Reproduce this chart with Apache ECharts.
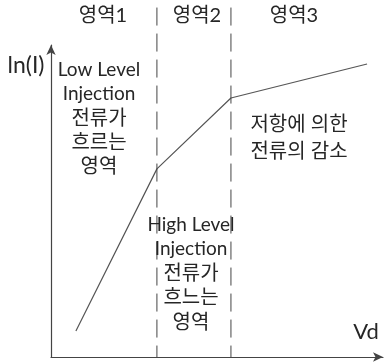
<!DOCTYPE html>
<html>
<head>
<meta charset="utf-8">
<script src="https://cdn.jsdelivr.net/npm/echarts@6/dist/echarts.min.js"></script>
<style>
  html, body { margin: 0; padding: 0; background: #fff; }
  #chart { width: 388px; height: 363px; }
</style>
</head>
<body>
<div id="chart"></div>
<script>
// Region boundaries along Vd (axis units 0..100)
const regionBounds = [31.9, 54.2];
// ln(I) vs Vd piecewise curve
const curveVd = [7.5, 31.9, 54.2, 95.2];
const curveLnI = [8.3, 60.3, 83.0, 93.9];
// Region titles across the top
const regionTitles = ['영역1', '영역2', '영역3'];
// Region descriptions
const lowText = ['Low Level', 'Injection', '전류가', '흐르는', '영역'];
const highText = ['High Level', 'Injection', '전류가', '흐느는', '영역'];
const resText = ['저항에 의한', '전류의 감소'];
const xName = 'Vd';
const yName = 'ln(I)';

const chart = echarts.init(document.getElementById('chart'), null, { renderer: 'canvas' });

const textColor = '#262626';
const fontFamily = 'Lato, "Noto Sans CJK KR", sans-serif';

function fontFor(t) {
  // Latin lines use a slightly smaller size than Hangul lines
  return /[A-Za-z]/.test(t) ? '19px ' + fontFamily : '20px ' + fontFamily;
}

function textBlock(lines, cx, tops) {
  return lines.map((t, i) => ({
    type: 'text',
    x: cx,
    y: tops[i],
    style: {
      text: t,
      fill: textColor,
      font: fontFor(t),
      align: 'center',
      verticalAlign: 'middle'
    },
    z: 10
  }));
}

// Dashed boundaries run from above the plot down to the Vd axis
const boundarySeries = regionBounds.map(b => ({
  type: 'line',
  data: [[b, 112], [b, 0]],
  symbol: 'none',
  clip: false,
  lineStyle: { color: '#444', width: 1, type: [18, 8] },
  silent: true
}));

chart.setOption({
  animation: false,
  grid: { left: 51, right: 5, top: 45, bottom: 6 },
  xAxis: {
    type: 'value', min: 0, max: 100,
    axisLine: { lineStyle: { color: '#444', width: 1.2 }, symbol: ['none', 'arrow'], symbolSize: [7, 10] },
    axisTick: { show: false }, axisLabel: { show: false }, splitLine: { show: false }
  },
  yAxis: {
    type: 'value', min: 0, max: 100,
    axisLine: { show: true, lineStyle: { color: '#444', width: 1.2 }, symbol: ['none', 'arrow'], symbolSize: [7, 10] },
    axisTick: { show: false }, axisLabel: { show: false }, splitLine: { show: false }
  },
  series: [
    {
      type: 'line',
      data: curveVd.map((v, i) => [v, curveLnI[i]]),
      symbol: 'none',
      lineStyle: { color: '#555', width: 1.2 },
      silent: true
    },
    ...boundarySeries
  ],
  graphic: [
    ...textBlock([regionTitles[0]], 103, [16]),
    ...textBlock([regionTitles[1]], 197, [16]),
    ...textBlock([regionTitles[2]], 294, [16]),
    ...textBlock(lowText, 99, [70, 94, 119, 143, 167]),
    ...textBlock(highText, 191, [225, 249, 274, 298, 323]),
    ...textBlock(resText, 299, [125, 152]),
    { type: 'text', x: 26, y: 66, style: { text: yName, fill: textColor, font: '23px ' + fontFamily, align: 'center', verticalAlign: 'middle' } },
    { type: 'text', x: 366, y: 332, style: { text: xName, fill: textColor, font: '22px ' + fontFamily, align: 'center', verticalAlign: 'middle' } }
  ]
});
</script>
</body>
</html>
